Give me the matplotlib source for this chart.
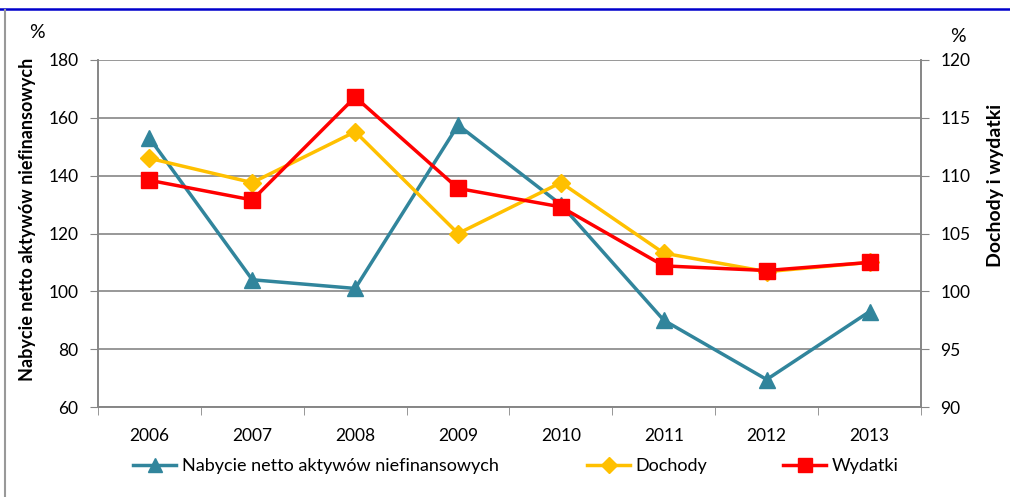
import matplotlib
matplotlib.use("Agg")
import matplotlib.pyplot as plt
from matplotlib.lines import Line2D

years = ["2006", "2007", "2008", "2009", "2010", "2011", "2012", "2013"]
nabycie = [153, 104, 101, 157.5, 130, 90, 69.5, 93]
dochody = [111.5, 109.4, 113.8, 105.0, 109.4, 103.3, 101.7, 102.5]
wydatki = [109.6, 107.9, 116.8, 108.9, 107.3, 102.2, 101.8, 102.5]

left_ticks = [60, 80, 100, 120, 140, 160, 180]
right_ticks = [90, 95, 100, 105, 110, 115, 120]

plt.rcParams['font.family'] = ['Lato', 'DejaVu Sans']

W, H = 1010, 497
fig = plt.figure(figsize=(W / 100, H / 100), dpi=100)
ax = fig.add_axes([98 / W, 1 - 407 / H, (921 - 98) / W, (407 - 60) / H])
ax2 = ax.twinx()

grid_c = "#868686"
x = list(range(len(years)))

ax.set_xlim(-0.5, len(years) - 0.5)
ax.set_ylim(60, 180)
ax2.set_ylim(90, 120)
ax.set_yticks(left_ticks)
ax2.set_yticks(right_ticks)
ax.set_xticks(x)
ax.set_xticklabels(years)
ax.set_xticks([i - 0.5 for i in range(len(years) + 1)], minor=True)
ax.tick_params(axis='x', which='major', length=0, pad=15, labelsize=12.5, colors='black')
ax.tick_params(axis='x', which='minor', length=6, color=grid_c, direction='out')
ax.tick_params(axis='y', length=6, color=grid_c, labelsize=12.5, pad=8)
ax2.tick_params(axis='y', length=6, color=grid_c, labelsize=12.5, pad=8)

ax.yaxis.grid(True, color=grid_c, linewidth=1.2)
ax.set_axisbelow(True)
for a in (ax, ax2):
    a.spines['top'].set_visible(False)
    for s in ('left', 'right', 'bottom'):
        a.spines[s].set_color(grid_c)
        a.spines[s].set_linewidth(1.2)

blue = "#31859C"
yellow = "#FFC000"
red = "#FF0000"

ax.plot(x, nabycie, color=blue, lw=2.5, marker='^', ms=11, zorder=3)
ax2.plot(x, dochody, color=yellow, lw=2.5, marker='D', ms=9, zorder=3)
ax2.plot(x, wydatki, color=red, lw=2.5, marker='s', ms=11, zorder=4)
ax.set_zorder(ax2.get_zorder() - 1)
ax.patch.set_visible(True)
ax2.patch.set_visible(False)

fig.text(28 / W, 1 - 219 / H, "Nabycie netto aktywów niefinansowych", rotation=90,
         ha='center', va='center', fontsize=13, fontweight='bold')
fig.text(995 / W, 1 - 185 / H, "Dochody i wydatki", rotation=90,
         ha='center', va='center', fontsize=14, fontweight='bold')
fig.text(37 / W, 1 - 33 / H, "%", ha='center', va='center', fontsize=14)
fig.text(958 / W, 1 - 37 / H, "%", ha='center', va='center', fontsize=14)

handles = [
    Line2D([], [], color=blue, lw=2.5, marker='^', ms=10),
    Line2D([], [], color=yellow, lw=2.5, marker='D', ms=8),
    Line2D([], [], color=red, lw=2.5, marker='s', ms=10),
]
labels = ["Nabycie netto aktywów niefinansowych", "Dochody", "Wydatki"]
starts = [133, 587, 783]
for h, lab, sx in zip(handles, labels, starts):
    fig.legend([h], [lab], loc='center left', bbox_to_anchor=(sx / W, 1 - 466 / H),
               frameon=False, fontsize=13, handlelength=2.4, handletextpad=0.3,
               borderpad=0, borderaxespad=0)

# frame lines
fig.add_artist(Line2D([0, 1], [1 - 8.5 / H, 1 - 8.5 / H], color="#0000CC", lw=1.8,
                      transform=fig.transFigure))
fig.add_artist(Line2D([5 / W, 5 / W], [0, 1 - 10 / H], color="#999999", lw=1.5,
                      transform=fig.transFigure))

fig.savefig("out.png", dpi=100)
